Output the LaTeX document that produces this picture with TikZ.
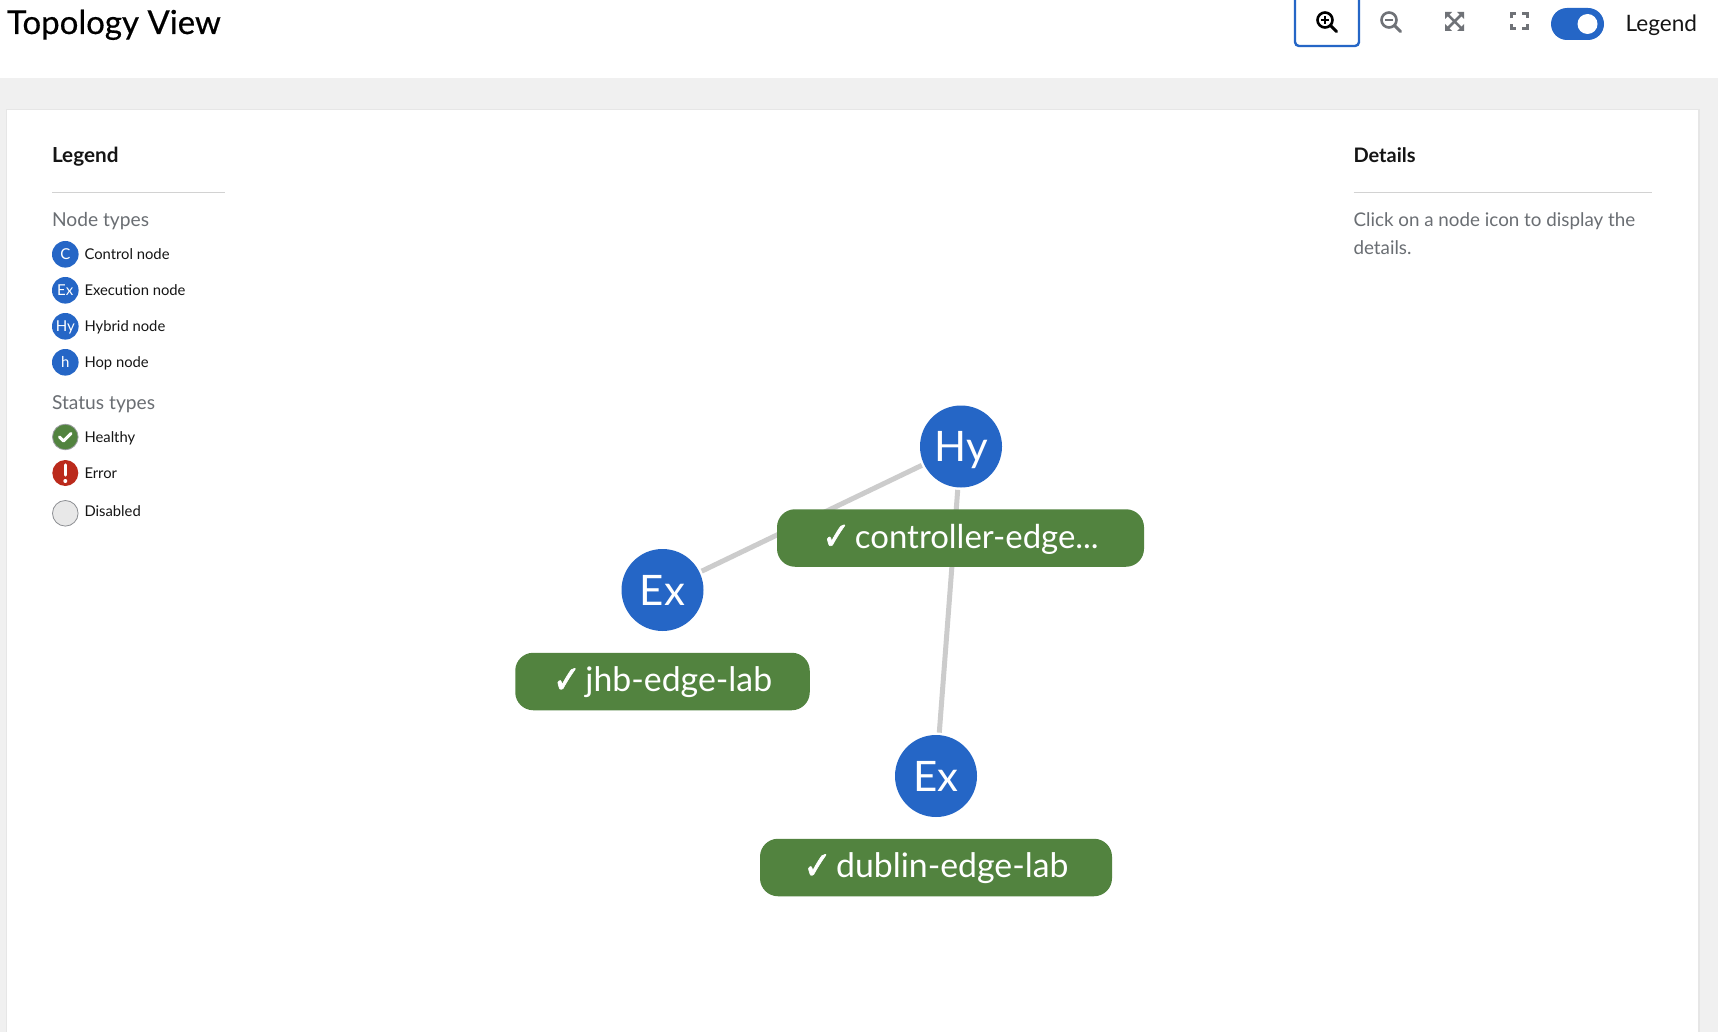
\documentclass[tikz,border=0pt]{standalone}
\usepackage{fontspec}
\setmainfont{Lato}
\newfontfamily\symfont[FakeBold=1.6,FakeStretch=0.86]{DejaVu Sans}
\newfontfamily\titlefont[FakeBold=0.5]{Lato}
\definecolor{pageGrey}{HTML}{F0F0F0}
\definecolor{ruleGrey}{HTML}{D2D2D2}
\definecolor{panelEdge}{HTML}{E6E6E6}
\definecolor{textGrey}{HTML}{6A6E73}
\definecolor{textDark}{HTML}{151515}
\definecolor{nodeBlue}{HTML}{2566C6}
\definecolor{okGreen}{HTML}{52833F}
\definecolor{errRed}{HTML}{BB2A1C}
\definecolor{offFill}{HTML}{E8E8E8}
\definecolor{edgeGrey}{HTML}{CCCCCC}
\definecolor{iconGrey}{HTML}{6F7277}
\newcommand{\fs}[1]{\fontsize{#1}{#1}\selectfont}
\newcommand{\ck}{\raisebox{-1.5pt}{\fontsize{39}{39}\selectfont\symfont\char"2713}}
\newcommand{\lbltxt}[1]{\raisebox{-10pt}[0pt][0pt]{\ck\hspace{4.5pt}#1}}
\tikzset{
  txt/.style={anchor=base west,inner sep=0pt,outer sep=0pt},
  legendDot/.style={circle,fill=nodeBlue,minimum size=26.6pt,inner sep=0pt,text=white,font=\fs{15}},
  topoNode/.style={circle,fill=nodeBlue,minimum size=82pt,inner sep=0pt,outer sep=2.5pt,text=white,font=\fs{42}},
  topoLabel/.style={rectangle,rounded corners=18pt,fill=okGreen,text=white,inner sep=0pt,font=\fs{33.8}},
  topoEdge/.style={edgeGrey,line width=5pt},
  itemText/.style={txt,text=textDark,font=\fs{14.8}},
  headText/.style={txt,text=textDark,font=\fs{20}\bfseries},
  subText/.style={txt,text=textGrey,font=\fs{19.2}},
  panelRule/.style={ruleGrey,line width=1pt},
  iconLine/.style={line width=2.6pt},
}
\begin{document}
\begin{tikzpicture}[x=1pt,y=-1pt]
\useasboundingbox (0,0) rectangle (1718,1032);
\fill[white] (0,0) rectangle (1718,1032);
\fill[pageGrey] (0,78) rectangle (1718,1032);
\fill[panelEdge] (6,109) rectangle (1699.5,1032);
\fill[white] (7,110) rectangle (1698,1032);

% header
\node[txt,text=black,font=\fs{33}\titlefont] (title) at (7,34) {Topology View};
\draw[nodeBlue,line width=2.4pt,rounded corners=4pt] (1295,-6) -- (1295,46) -- (1359,46) -- (1359,-6);
% zoom in
\draw[black,iconLine] (1325,20) circle (7.5pt);
\draw[black,line width=3pt,line cap=round] (1331,26) -- (1336.5,31.5);
\draw[black,line width=2pt] (1321,20) -- (1329,20) (1325,16) -- (1325,24);
% zoom out
\draw[iconGrey,iconLine] (1389,20) circle (7.5pt);
\draw[iconGrey,line width=3pt,line cap=round] (1395,26) -- (1400.5,31.5);
\draw[iconGrey,line width=2pt] (1385,20) -- (1393,20);
% fit
\draw[iconGrey,line width=2.5pt] (1448,15) -- (1461,28) (1461,15) -- (1448,28);
\fill[iconGrey] (1445,12) -- (1452,12) -- (1445,19) -- cycle;
\fill[iconGrey] (1464,12) -- (1457,12) -- (1464,19) -- cycle;
\fill[iconGrey] (1445,31) -- (1452,31) -- (1445,24) -- cycle;
\fill[iconGrey] (1464,31) -- (1457,31) -- (1464,24) -- cycle;
% fullscreen
\draw[iconGrey,line width=3pt] (1511,18.5) -- (1511,14) -- (1516,14);
\draw[iconGrey,line width=3pt] (1522,14) -- (1527,14) -- (1527,18.5);
\draw[iconGrey,line width=3pt] (1511,24.5) -- (1511,29) -- (1516,29);
\draw[iconGrey,line width=3pt] (1522,29) -- (1527,29) -- (1527,24.5);
% toggle
\fill[nodeBlue,rounded corners=16pt] (1551,8) rectangle (1604,40);
\fill[white] (1587.5,24) circle (10pt);
\node[txt,text=textDark,font=\fs{22.6}] (legendToggle) at (1625.5,31.5) {Legend};

% legend panel
\node[headText,font=\fs{20.7}\bfseries] (legendHead) at (52,163) {Legend};
\draw[panelRule] (52,192.5) -- (225,192.5);
\node[subText] (nodeTypes) at (52,227) {Node types};
\node[legendDot] (dotC) at (65.3,254.3) {C};
\node[itemText] (lblC) at (84.5,260) {Control node};
\node[legendDot] (dotEx) at (65.3,290.3) {Ex};
\node[itemText] (lblEx) at (84.5,295.5) {Execution node};
\node[legendDot] (dotHy) at (65.3,326.3) {\raisebox{0pt}[\height][0pt]{Hy}};
\node[itemText] (lblHy) at (84.5,331.5) {Hybrid node};
\node[legendDot] (dotH) at (65.3,362.3) {h};
\node[itemText] (lblH) at (84.5,367.5) {Hop node};
\node[subText] (statusTypes) at (52,409.5) {Status types};
\node[legendDot,fill=okGreen,draw=iconGrey!70,line width=.8pt,minimum size=25.6pt] (dotOk) at (65.3,437) {};
\draw[white,line width=3pt,line cap=round,line join=round] (59.5,437) -- (63.5,441) -- (71,433.5);
\node[itemText] (lblOk) at (84.5,442.5) {Healthy};
\node[legendDot,fill=errRed,minimum size=26pt] (dotErr) at (65.3,473) {};
\draw[white,line width=3.4pt,line cap=round] (65.3,465) -- (65.3,475);
\fill[white] (65.3,481) circle (2pt);
\node[itemText] (lblErr) at (84.5,478.5) {Error};
\node[legendDot,fill=offFill,draw=iconGrey!80,line width=.8pt,minimum size=25.6pt] (dotOff) at (65.3,513.3) {};
\node[itemText] (lblOff) at (84.5,516) {Disabled};

% details panel
\node[headText] (detailsHead) at (1353.5,163) {Details};
\draw[panelRule] (1353.5,192.5) -- (1652,192.5);
\node[subText,font=\fs{18.8}] (detailsOne) at (1353.5,227) {Click on a node icon to display the};
\node[subText,font=\fs{18.8}] (detailsTwo) at (1353.5,255) {details.};

% topology
\node[topoNode] (hy) at (961,446.5) {\raisebox{0pt}[\height][0pt]{Hy}};
\node[topoNode] (exa) at (662.5,590) {Ex};
\node[topoNode] (exb) at (936,776) {Ex};
\draw[topoEdge] (hy) -- (exa);
\draw[topoEdge] (hy) -- (exb);
\node[topoLabel,minimum width=367pt,minimum height=57.5pt,font=\fs{32.9}] (lblCtl) at (960.5,538) {\lbltxt{controller-edge...}};
\node[topoLabel,minimum width=294.5pt,minimum height=57.5pt] (lblJhb) at (662.5,681.5) {\lbltxt{jhb-edge-lab}};
\node[topoLabel,minimum width=352pt,minimum height=57.5pt] (lblDub) at (936,867.5) {\lbltxt{dublin-edge-lab}};
\end{tikzpicture}
\end{document}
